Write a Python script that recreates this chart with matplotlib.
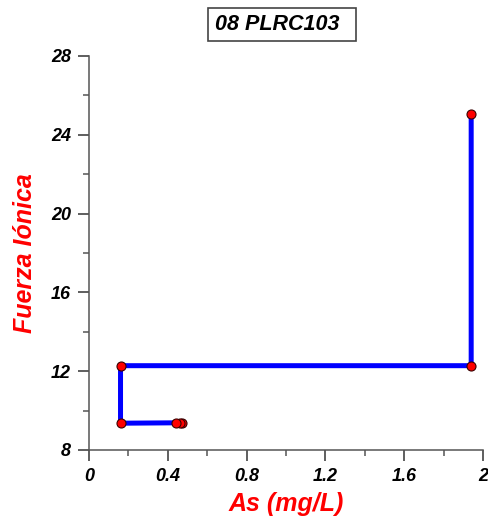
import matplotlib
matplotlib.use("Agg")
import matplotlib.pyplot as plt
from matplotlib.patches import Rectangle
from matplotlib.ticker import MultipleLocator

# Arsenic concentration (mg/L) vs. ionic strength along the sample sequence
arsenic = [0.47, 0.46, 0.44, 0.16, 0.16, 1.94, 1.94]
ionic_strength = [9.38, 9.35, 9.38, 9.36, 12.28, 12.28, 25.05]

x_ticks = [0, 0.4, 0.8, 1.2, 1.6, 2]
x_tick_labels = ["0", "0.4", "0.8", "1.2", "1.6", "2"]
y_ticks = [8, 12, 16, 20, 24, 28]
y_tick_labels = ["8", "12", "16", "20", "24", "28"]

title = "08 PLRC103"
x_label = "As (mg/L)"
y_label = "Fuerza Iónica"

plt.rcParams["font.family"] = ["Liberation Sans", "DejaVu Sans"]

W, H = 488, 518
fig = plt.figure(figsize=(W / 100, H / 100), dpi=100)
ax = fig.add_axes([89 / W, 1 - 450 / H, 394 / W, 394 / H])

ax.plot(arsenic, ionic_strength, color="#0000ff", lw=3.6, zorder=2,
        solid_joinstyle="miter")
ax.plot(arsenic, ionic_strength, ls="none", marker="o", ms=6.5,
        mfc="#ff0000", mec="#3a0000", mew=0.8, zorder=3)

ax.set_xlim(0, 2)
ax.set_ylim(8, 28)
ax.set_xticks(x_ticks)
ax.set_xticklabels(x_tick_labels)
ax.set_yticks(y_ticks)
ax.set_yticklabels(y_tick_labels)
ax.xaxis.set_minor_locator(MultipleLocator(0.2))
ax.yaxis.set_minor_locator(MultipleLocator(2))

for side in ("top", "right"):
    ax.spines[side].set_visible(False)
for side in ("left", "bottom"):
    ax.spines[side].set_color("#555555")
    ax.spines[side].set_linewidth(1.1)

ax.tick_params(which="major", direction="out", length=8, width=1.1,
               color="#333333", labelsize=13, pad=5)
ax.tick_params(which="minor", direction="out", length=4, width=1.1,
               color="#555555")
for lbl in ax.get_xticklabels() + ax.get_yticklabels():
    lbl.set_fontweight("bold")
    lbl.set_fontstyle("italic")

ax.set_xlabel(x_label, color="#ff0000", fontsize=18, fontweight="bold",
              fontstyle="italic", labelpad=5)
ax.set_ylabel(y_label, color="#ff0000", fontsize=18, fontweight="bold",
              fontstyle="italic", labelpad=10)

# Title in a framed box above the plot area
fig.patches.append(Rectangle((208 / W, 1 - 41 / H), 148 / W, 33 / H,
                             transform=fig.transFigure, fc="white",
                             ec="#444444", lw=1.2))
fig.text(277 / W, 1 - 25 / H, title, ha="center", va="center",
         fontsize=15.5, fontweight="bold", fontstyle="italic")

fig.savefig("out.png", dpi=100)
